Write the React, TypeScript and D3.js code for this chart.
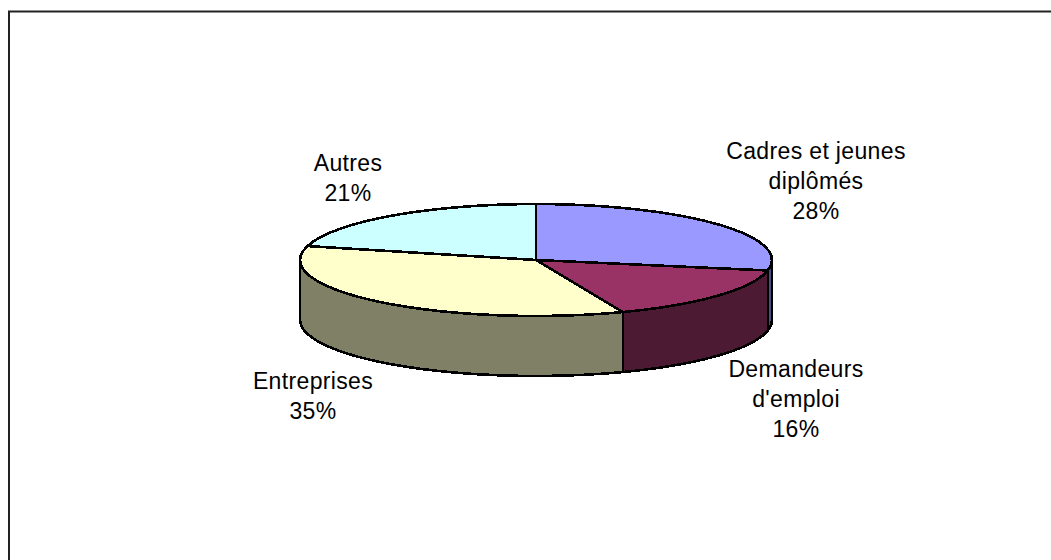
import React from "react";
import * as d3 from "d3";

const WIDTH = 1051;
const HEIGHT = 560;

const categories = ["Cadres et jeunes diplômés", "Demandeurs d'emploi", "Entreprises", "Autres"];
const shares = [28, 16, 35, 21];
const topColors = ["#9999ff", "#993366", "#ffffcc", "#ccffff"];
const sideColors = ["#4d4d80", "#4d1a33", "#808066", "#668080"];
const labelLines = [
  ["Cadres et jeunes", "diplômés", "28%"],
  ["Demandeurs", "d'emploi", "16%"],
  ["Entreprises", "35%"],
  ["Autres", "21%"],
];
const labelAnchors = [
  { x: 816, y: 158.5 },
  { x: 796, y: 377 },
  { x: 313, y: 389 },
  { x: 348, y: 171 },
];

const cx = 536;
const cy = 260;
const rx = 236;
const ry = 56;
const depth = 60;

const px = d3.scaleLinear().domain([-1, 1]).range([cx - rx, cx + rx]);
const py = d3.scaleLinear().domain([-1, 1]).range([cy - ry, cy + ry]);

// Angle measured clockwise from twelve o'clock, projected onto the tilted disc.
const rim = (a: number, drop = 0): [number, number] => [
  px(Math.sin(a)),
  py(-Math.cos(a)) + drop,
];

const sweep = (a0: number, a1: number, drop = 0): [number, number][] => {
  const n = Math.max(2, Math.ceil(Math.abs(a1 - a0) / 0.09));
  return d3.range(n + 1).map((i) => rim(a0 + ((a1 - a0) * i) / n, drop));
};

const line = d3.line();

const slices = d3
  .pie<number>()
  .sort(null)
  .value((d) => d)(shares);

const FRONT_START = Math.PI / 2;
const FRONT_END = (3 * Math.PI) / 2;

export default function App() {
  return (
    <svg
      width={WIDTH}
      height={HEIGHT}
      viewBox={`0 0 ${WIDTH} ${HEIGHT}`}
      style={{ position: "absolute", left: 0, top: 0, background: "#fff" }}
    >
      {/* chart frame, open at the right and bottom */}
      <path d={`M9 ${HEIGHT}V11.5H${WIDTH}`} fill="none" stroke="#222" strokeWidth={2} />

      <g shapeRendering="crispEdges">
        {/* outer wall of the disc: only the part facing the viewer */}
        {slices.map((s, i) => {
          const a0 = Math.max(s.startAngle, FRONT_START);
          const a1 = Math.min(s.endAngle, FRONT_END);
          if (a1 <= a0) return null;
          const upper = sweep(a0, a1);
          const lower = sweep(a1, a0, depth);
          return (
            <path
              key={categories[i] + "-wall"}
              d={line([...upper, ...lower])! + "Z"}
              fill={sideColors[i]}
              stroke="#000"
              strokeWidth={2.6}
              strokeLinejoin="round"
            />
          );
        })}

        {/* top face */}
        {slices.map((s, i) => (
          <path
            key={categories[i]}
            d={line([[cx, cy], ...sweep(s.startAngle, s.endAngle)])! + "Z"}
            fill={topColors[i]}
            stroke="#000"
            strokeWidth={2.6}
            strokeLinejoin="round"
          />
        ))}
      </g>

      {labelLines.map((lines, i) => (
        <text
          key={categories[i]}
          x={labelAnchors[i].x}
          y={labelAnchors[i].y}
          textAnchor="middle"
          fontFamily="Liberation Sans, Arial, sans-serif"
          fontSize={23}
          letterSpacing={0.35}
          fill="#000"
        >
          {lines.map((t, j) => (
            <tspan key={t} x={labelAnchors[i].x} dy={j === 0 ? 0 : 30}>
              {t}
            </tspan>
          ))}
        </text>
      ))}
    </svg>
  );
}
